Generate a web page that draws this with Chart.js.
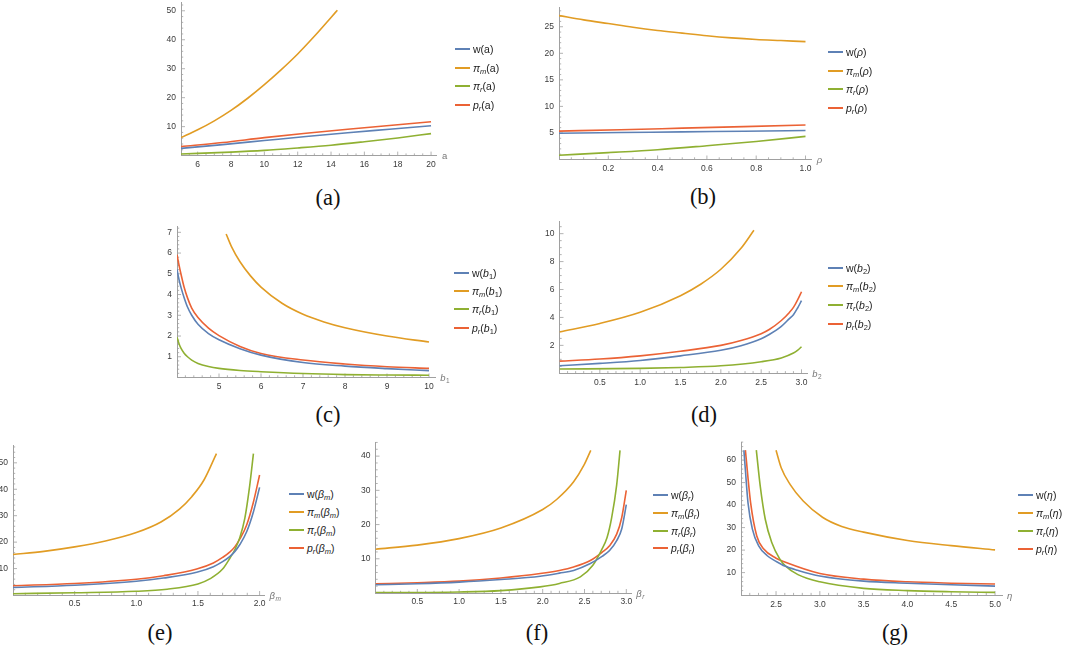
<!DOCTYPE html>
<html>
<head>
<meta charset="utf-8">
<script src="https://cdn.jsdelivr.net/npm/chart.js@4.4.1/dist/chart.umd.min.js"></script>
<style>
  body { margin: 0; background: #fff; width: 1065px; height: 647px; position: relative; overflow: hidden;
         font-family: "Liberation Sans", Arial, sans-serif; }
  canvas { position: absolute; }
  .legend { position: absolute; font-size: 10.5px; color: #222; }
  .legend .row { position: absolute; left: 0; height: 14px; margin-top: -7px; white-space: nowrap;
                 display: flex; align-items: center; }
  .legend .swatch { display: inline-block; width: 15px; height: 2px; margin-right: 3px; }
  .legend sub { font-size: 7.5px; vertical-align: -2px; line-height: 0; }
  .cap { position: absolute; transform: translate(-50%, -50%); font-family: "Liberation Serif", "Times New Roman", serif;
         font-size: 22.5px; color: #111; }
</style>
</head>
<body>
<script>
// Mathematica default palette
const COLORS = ['#5E81B5', '#E19C24', '#8FB032', '#EB6235'];

// (a) against a
const A_W   = [[5, 2.5], [7.5, 3.8], [10, 5.2], [12.5, 6.6], [15, 7.9], [17.5, 9.1], [20, 10.3]];
const A_PIM = [[5, 6.2], [6, 8.9], [7, 12.0], [8, 15.6], [9, 19.8], [10, 24.5], [11, 29.6], [12, 35.1], [13, 41.2], [14, 47.7], [14.38, 50.2]];
const A_PIR = [[5, 0.55], [8, 1.2], [10, 1.8], [12, 2.65], [14, 3.6], [16, 4.8], [18, 6.1], [20, 7.6]];
const A_PR  = [[5, 3.1], [7.5, 4.5], [10, 6.2], [12.5, 7.7], [15, 9.1], [17.5, 10.4], [20, 11.7]];
const A_XTICKS = [6, 8, 10, 12, 14, 16, 18, 20];
const A_YTICKS = [10, 20, 30, 40, 50];

// (b) against rho
const B_W   = [[0, 4.95], [0.25, 5.08], [0.5, 5.2], [0.75, 5.33], [1, 5.45]];
const B_PIM = [[0, 27.1], [0.1, 26.3], [0.2, 25.6], [0.3, 24.9], [0.4, 24.3], [0.5, 23.8], [0.6, 23.3], [0.7, 22.9], [0.8, 22.6], [0.9, 22.4], [1, 22.2]];
const B_PIR = [[0, 0.8], [0.2, 1.3], [0.4, 1.85], [0.6, 2.6], [0.8, 3.4], [1, 4.35]];
const B_PR  = [[0, 5.35], [0.25, 5.6], [0.5, 5.9], [0.75, 6.2], [1, 6.5]];
const B_XTICKS = [0.2, 0.4, 0.6, 0.8, 1.0];
const B_YTICKS = [5, 10, 15, 20, 25];

// (c) against b1
const C_W   = [[4, 5.21], [4.05, 4.7], [4.1, 4.31], [4.17, 3.85], [4.25, 3.4], [4.35, 3.0], [4.5, 2.57], [4.75, 2.12], [5, 1.82], [5.5, 1.39], [6, 1.08], [7, 0.72], [8, 0.55], [9, 0.43], [10, 0.33]];
const C_PIM = [[5.17, 6.92], [5.3, 6.3], [5.5, 5.58], [5.75, 4.9], [6, 4.36], [6.5, 3.58], [7, 3.05], [7.5, 2.68], [8, 2.4], [9, 2.0], [10, 1.71]];
const C_PIR = [[4, 1.94], [4.05, 1.62], [4.1, 1.39], [4.17, 1.17], [4.25, 1.0], [4.35, 0.84], [4.5, 0.68], [4.75, 0.53], [5, 0.44], [5.5, 0.34], [6, 0.28], [7, 0.19], [8, 0.14], [9, 0.12], [10, 0.11]];
const C_PR  = [[4, 5.92], [4.05, 5.4], [4.1, 4.94], [4.17, 4.35], [4.25, 3.84], [4.35, 3.35], [4.5, 2.89], [4.75, 2.38], [5, 2.02], [5.5, 1.5], [6, 1.16], [7, 0.84], [8, 0.65], [9, 0.52], [10, 0.44]];
const C_XTICKS = [5, 6, 7, 8, 9, 10];
const C_YTICKS = [1, 2, 3, 4, 5, 6, 7];

// (d) against b2
const D_W   = [[0, 0.54], [0.5, 0.71], [1, 0.92], [1.5, 1.25], [2, 1.65], [2.25, 1.98], [2.5, 2.48], [2.6, 2.78], [2.75, 3.36], [2.85, 3.92], [2.9, 4.2], [2.95, 4.66], [3, 5.2]];
const D_PIM = [[0, 2.96], [0.5, 3.57], [1, 4.37], [1.5, 5.56], [1.75, 6.38], [2, 7.45], [2.25, 8.95], [2.41, 10.24]];
const D_PIR = [[0, 0.31], [1, 0.35], [1.5, 0.42], [2, 0.54], [2.5, 0.83], [2.75, 1.1], [2.9, 1.45], [2.95, 1.64], [3, 1.9]];
const D_PR  = [[0, 0.87], [0.5, 1.02], [1, 1.25], [1.5, 1.58], [2, 2.0], [2.25, 2.35], [2.5, 2.84], [2.6, 3.14], [2.75, 3.78], [2.85, 4.36], [2.9, 4.72], [2.95, 5.24], [3, 5.84]];
const D_XTICKS = [0.5, 1.0, 1.5, 2.0, 2.5, 3.0];
const D_YTICKS = [2, 4, 6, 8, 10];

// (e) against beta_m
const E_W   = [[0, 2.86], [0.5, 3.7], [1, 5.2], [1.22, 6.4], [1.49, 8.6], [1.625, 10.7], [1.7, 12.6], [1.76, 14.6], [1.8, 16.5], [1.84, 19.1], [1.895, 23.9], [1.949, 31.3], [2, 40.7]];
const E_PIM = [[0, 15.3], [0.25, 16.5], [0.5, 18.2], [0.75, 20.4], [1, 23.6], [1.2, 27.6], [1.35, 32.5], [1.45, 37.2], [1.55, 43.6], [1.65, 53.5]];
const E_PIR = [[0, 0.5], [0.5, 0.85], [1, 1.4], [1.25, 2.2], [1.5, 4.2], [1.6, 6.2], [1.7, 9.8], [1.76, 14], [1.8, 17.2], [1.84, 21.8], [1.88, 29], [1.92, 41.5], [1.95, 53.5]];
const E_PR  = [[0, 3.5], [0.5, 4.35], [1, 5.95], [1.22, 7.3], [1.49, 9.8], [1.625, 12.1], [1.7, 14.2], [1.76, 16.3], [1.8, 18.3], [1.84, 21.2], [1.895, 26.5], [1.949, 35], [2, 45.4]];
const E_XTICKS = [0.5, 1.0, 1.5, 2.0];
const E_YTICKS = [10, 20, 30, 40, 50];

// (f) against beta_r
const F_W   = [[0, 2.4], [0.5, 2.7], [1, 3.17], [1.5, 3.94], [1.97, 4.9], [2.2, 5.8], [2.37, 6.6], [2.57, 8.6], [2.71, 10.7], [2.8, 12.4], [2.885, 15.3], [2.945, 18.7], [3, 25.8]];
const F_PIM = [[0, 12.8], [0.5, 14.0], [1, 15.9], [1.5, 19], [2, 24.4], [2.17, 27.4], [2.37, 32.5], [2.49, 37.2], [2.575, 41.7]];
const F_PIR = [[0, 0.1], [1, 0.3], [1.5, 0.7], [1.97, 1.8], [2.2, 2.8], [2.45, 4.7], [2.6, 8.1], [2.7, 12.4], [2.77, 16.2], [2.825, 22], [2.885, 31.6], [2.925, 41.7]];
const F_PR  = [[0, 2.7], [0.5, 3.0], [1, 3.46], [1.5, 4.4], [1.97, 5.7], [2.2, 6.6], [2.37, 7.6], [2.57, 9.5], [2.71, 11.9], [2.8, 13.8], [2.885, 17.2], [2.945, 22], [3, 30]];
const F_XTICKS = [0.5, 1.0, 1.5, 2.0, 2.5, 3.0];
const F_YTICKS = [10, 20, 30, 40];

// (g) against eta
const G_W   = [[2.133, 64.4], [2.15, 55.6], [2.18, 41], [2.23, 29.3], [2.3, 22], [2.4, 17.5], [2.5, 15], [2.6, 12.9], [2.75, 11], [3, 8.5], [3.5, 6.2], [4, 5.3], [4.5, 4.6], [5, 4.0]];
const G_PIM = [[2.5, 64.4], [2.56, 56.5], [2.66, 49.2], [2.81, 41.8], [3.03, 34.6], [3.25, 30.5], [3.5, 28.0], [4, 24.3], [4.5, 22.0], [5, 20.1]];
const G_PIR = [[2.275, 64.4], [2.32, 48.3], [2.377, 33.7], [2.45, 23.5], [2.54, 16.2], [2.6, 13.2], [2.75, 9.1], [3, 5.9], [3.5, 3.0], [4, 2.0], [4.5, 1.5], [5, 1.2]];
const G_PR  = [[2.15, 64.4], [2.21, 41], [2.28, 26.3], [2.36, 20.5], [2.5, 16.4], [2.6, 14.7], [3, 9.6], [3.5, 7.1], [4, 5.9], [4.5, 5.3], [5, 4.9]];
const G_XTICKS = [2.5, 3.0, 3.5, 4.0, 4.5, 5.0];
const G_YTICKS = [10, 20, 30, 40, 50, 60];

// legend label pieces
const FN_HTML = ['w', '<i>π</i><sub><i>m</i></sub>', '<i>π</i><sub><i>r</i></sub>', '<i>p</i><sub><i>r</i></sub>'];
const FN_TEXT = ['w', 'π_m', 'π_r', 'p_r'];

const PANELS = [
  { cap: '(a)', series: [A_W, A_PIM, A_PIR, A_PR], xt: A_XTICKS, yt: A_YTICKS, xdec: 0,
    arg: 'a', argText: 'a', axis: [['a', '']],
    geo: { x0: 181, ppx: 16.67, y1: 155.6, ppy: 2.925, xmin: 5, xmax: 20.35, ymax: 53, xMinor: 0.5, yMinor: 2 },
    leg: [455, 49, 18.5], capPos: [328, 198] },
  { cap: '(b)', series: [B_W, B_PIM, B_PIR, B_PR], xt: B_XTICKS, yt: B_YTICKS, xdec: 1,
    arg: '<i>ρ</i>', argText: 'ρ', axis: [['ρ', 'i']],
    geo: { x0: 559, ppx: 246.5, y1: 159.5, ppy: 5.38, xmin: 0, xmax: 1.025, ymax: 28.7, xMinor: 0.05, yMinor: 1 },
    leg: [828, 52, 18.7], capPos: [703, 197] },
  { cap: '(c)', series: [C_W, C_PIM, C_PIR, C_PR], xt: C_XTICKS, yt: C_YTICKS, xdec: 0,
    arg: '<i>b</i><sub>1</sub>', argText: 'b1', axis: [['b', 'i'], ['1', 's']],
    geo: { x0: 177, ppx: 42, y1: 377.5, ppy: 21, xmin: 4, xmax: 10.15, ymax: 7.3, xMinor: 0.2, yMinor: 0.2 },
    leg: [454, 272.5, 18.4], capPos: [328, 415] },
  { cap: '(d)', series: [D_W, D_PIM, D_PIR, D_PR], xt: D_XTICKS, yt: D_YTICKS, xdec: 1,
    arg: '<i>b</i><sub>2</sub>', argText: 'b2', axis: [['b', 'i'], ['2', 's']],
    geo: { x0: 559.5, ppx: 80.67, y1: 373.3, ppy: 14.1, xmin: 0, xmax: 3.07, ymax: 10.9, xMinor: 0.1, yMinor: 0.5 },
    leg: [828, 267.5, 18.9], capPos: [704, 415] },
  { cap: '(e)', series: [E_W, E_PIM, E_PIR, E_PR], xt: E_XTICKS, yt: E_YTICKS, xdec: 1,
    arg: '<i>β</i><sub><i>m</i></sub>', argText: 'β_m', axis: [['β', 'i'], ['m', 'si']],
    geo: { x0: 13, ppx: 123.3, y1: 595, ppy: 2.68, xmin: 0, xmax: 2.04, ymax: 56.7, xMinor: 0.1, yMinor: 2 },
    leg: [289, 493.5, 18], capPos: [160, 633] },
  { cap: '(f)', series: [F_W, F_PIM, F_PIR, F_PR], xt: F_XTICKS, yt: F_YTICKS, xdec: 1,
    arg: '<i>β</i><sub><i>r</i></sub>', argText: 'β_r', axis: [['β', 'i'], ['r', 'si']],
    geo: { x0: 375.5, ppx: 83.6, y1: 593, ppy: 3.467, xmin: 0, xmax: 3.06, ymax: 44.1, xMinor: 0.1, yMinor: 2 },
    leg: [653, 495, 17.8], capPos: [537, 633] },
  { cap: '(g)', series: [G_W, G_PIM, G_PIR, G_PR], xt: G_XTICKS, yt: G_YTICKS, xdec: 1,
    arg: '<i>η</i>', argText: 'η', axis: [['η', 'i']],
    geo: { x0: 741, ppx: 87.6, y1: 595.1, ppy: 2.28, xmin: 2.1, xmax: 5.08, ymax: 68, xMinor: 0.1, yMinor: 2 },
    leg: [1018, 495, 18], capPos: [895, 633] },
];

const FONT = '"Liberation Sans", Arial, sans-serif';
const AXIS_COLOR = '#a0a0a0';

// inward major/minor ticks and the variable name at the end of the x axis
const axisDeco = {
  id: 'axisDeco',
  beforeDatasetsDraw(chart, args, o) {
    const { ctx, scales: { x, y } } = chart;
    ctx.save();
    ctx.strokeStyle = AXIS_COLOR;
    ctx.lineWidth = 0.8;
    ctx.beginPath();
    const walk = (scale, step, majors, fn) => {
      for (let k = Math.ceil(scale.min / step - 1e-6); k * step <= scale.max + 1e-9; k++) {
        const v = k * step;
        if (Math.abs(v - scale.min) < step / 10) continue;
        const major = majors.some((t) => Math.abs(t - v) < step / 10);
        fn(scale.getPixelForValue(v), major ? 4 : 2.2);
      }
    };
    const bottom = y.getPixelForValue(0);
    const left = x.getPixelForValue(x.min);
    walk(x, o.xMinor, o.xt, (px, len) => { ctx.moveTo(px, bottom); ctx.lineTo(px, bottom - len); });
    walk(y, o.yMinor, o.yt, (py, len) => { ctx.moveTo(left, py); ctx.lineTo(left + len, py); });
    ctx.stroke();
    ctx.restore();
  },
  afterDraw(chart, args, o) {
    const { ctx, chartArea } = chart;
    ctx.save();
    ctx.fillStyle = '#777';
    ctx.textBaseline = 'middle';
    let cx = chartArea.right + 5;
    const cy = chartArea.bottom + 1;
    for (const [t, st] of o.label) {
      const sub = st.includes('s');
      const it = st.includes('i');
      ctx.font = `${it ? 'italic ' : ''}${sub ? 6.5 : 9.5}px ${FONT}`;
      ctx.fillText(t, cx, cy + (sub ? 3 : 0));
      cx += ctx.measureText(t).width + (sub ? 0 : 0.5);
    }
    ctx.restore();
  },
};

function buildPanel(p) {
  const g = p.geo;
  const areaW = (g.xmax - g.xmin) * g.ppx;
  const areaH = g.ymax * g.ppy;
  const left = Math.floor(g.x0) - 36;
  const top = Math.floor(g.y1 - areaH) - 8;
  const W = Math.ceil(g.x0 + areaW) + 24 - left;
  const H = Math.ceil(g.y1) + 20 - top;

  const canvas = document.createElement('canvas');
  canvas.width = W;
  canvas.height = H;
  canvas.style.left = left + 'px';
  canvas.style.top = top + 'px';
  canvas.style.width = W + 'px';
  canvas.style.height = H + 'px';
  document.body.appendChild(canvas);

  const tickFont = { family: FONT, size: 8.5 };
  const chart = new Chart(canvas, {
    type: 'line',
    data: {
      datasets: p.series.map((s, i) => ({
        label: `${FN_TEXT[i]}(${p.argText})`,
        legendHtml: `${FN_HTML[i]}(${p.arg})`,
        data: s.map(([x, y]) => ({ x, y })),
        borderColor: COLORS[i],
        borderWidth: 1.6,
        pointRadius: 0,
        fill: false,
        cubicInterpolationMode: 'monotone',
      })),
    },
    options: {
      responsive: false,
      animation: false,
      devicePixelRatio: 1,
      layout: {
        padding: {
          left: g.x0 - left - 30,
          top: (g.y1 - areaH) - top,
          right: W - (g.x0 - left) - areaW,
          bottom: H - (g.y1 - top) - 16,
        },
      },
      plugins: {
        legend: { display: false },
        tooltip: { enabled: false },
        axisDeco: { xt: p.xt, yt: p.yt, xMinor: g.xMinor, yMinor: g.yMinor, label: p.axis },
      },
      scales: {
        x: {
          type: 'linear', min: g.xmin, max: g.xmax,
          afterBuildTicks: (s) => { s.ticks = p.xt.map((v) => ({ value: v })); },
          afterFit: (s) => { s.height = 16; },
          grid: { display: false, drawTicks: false },
          border: { display: true, color: AXIS_COLOR, width: 1 },
          ticks: { autoSkip: false, maxRotation: 0, padding: 4, font: tickFont, color: '#3a3a3a',
                   callback: (v) => Number(v).toFixed(p.xdec) },
        },
        y: {
          type: 'linear', min: 0, max: g.ymax,
          afterBuildTicks: (s) => { s.ticks = p.yt.map((v) => ({ value: v })); },
          afterFit: (s) => { s.width = 30; },
          grid: { display: false, drawTicks: false },
          border: { display: true, color: AXIS_COLOR, width: 1 },
          ticks: { autoSkip: false, padding: 5, font: tickFont, color: '#3a3a3a',
                   callback: (v) => Number(v).toFixed(0) },
        },
      },
    },
    plugins: [axisDeco],
  });

  renderLegend(chart, p.leg);

  const cap = document.createElement('div');
  cap.className = 'cap';
  cap.style.left = p.capPos[0] + 'px';
  cap.style.top = p.capPos[1] + 'px';
  cap.textContent = p.cap;
  document.body.appendChild(cap);
}

function renderLegend(chart, [lx, ly, dy]) {
  const box = document.createElement('div');
  box.className = 'legend';
  box.style.left = lx + 'px';
  box.style.top = ly + 'px';
  chart.data.datasets.forEach((ds, i) => {
    const row = document.createElement('div');
    row.className = 'row';
    row.style.top = (i * dy) + 'px';
    row.innerHTML = `<span class="swatch" style="background:${ds.borderColor}"></span><span>${ds.legendHtml}</span>`;
    box.appendChild(row);
  });
  document.body.appendChild(box);
}

PANELS.forEach(buildPanel);
</script>
</body>
</html>
